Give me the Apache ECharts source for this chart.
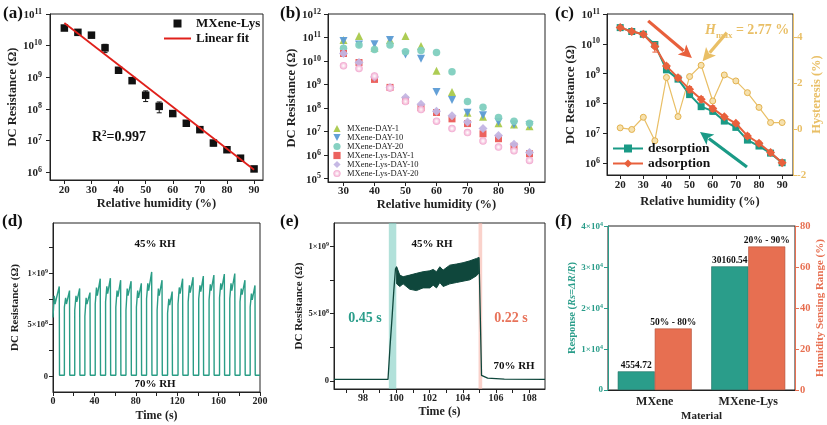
<!DOCTYPE html>
<html><head><meta charset="utf-8">
<script src="https://cdn.jsdelivr.net/npm/echarts@6/dist/echarts.min.js"></script>
<style>html,body{margin:0;padding:0;background:#fff}#c{width:827px;height:425px}</style>
</head><body><div id="c"></div>
<script>
const FONT = "'Liberation Serif','Times New Roman',serif";
// ---------- (a) MXene-Lys resistance vs RH ----------
const aRH = [20,25,30,35,40,45,50,55,60,65,70,75,80,85,90];
const aR = [3.6e10,2.63e10,2.14e10,8.5e9,1.66e9,7.8e8,2.7e8,1.2e8,7.1e7,3.5e7,2.2e7,8.3e6,5.1e6,2.75e6,1.26e6];
const aErr = [0,0,0,2.5e9,0,0,1.0e8,4.5e7,0,0,4e6,1.5e6,0,0,0];
const aFitRH = [20,90];
const aFitR = [5.2e10,1.18e6];
const aTicksX = [20,30,40,50,60,70,80,90];
const logTicksA = [6,7,8,9,10,11];
// ---------- (b) stability ----------
const bRH = [30,35,40,45,50,55,60,65,70,75,80,85,90];
const bNames = ['MXene-DAY-1','MXene-DAY-10','MXene-DAY-20','MXene-Lys-DAY-1','MXene-Lys-DAY-10','MXene-Lys-DAY-20'];
const bDay1 = [7.8e10,1.15e11,3.7e10,7.8e10,1.15e11,4.4e10,3.9e9,4.9e8,6.3e7,4.3e7,2.3e7,2.0e7,1.7e7];
const bDay10 = [7.2e10,5.1e10,5.2e10,7.8e10,1.9e10,1.26e10,4.9e8,2.2e8,6.3e7,5.0e7,2.6e7,2.0e7,1.9e7];
const bDay20 = [3.5e10,4.8e10,3.1e10,4.8e10,2.5e10,2.8e10,2.3e10,3.5e9,1.9e8,1.1e8,4.0e7,2.8e7,2.3e7];
const bLys1 = [2.1e10,8.7e9,1.66e9,7.6e8,2.2e8,1.05e8,6.5e7,3.5e7,2.2e7,8.1e6,5.0e6,2.4e6,1.15e6];
const bLys10 = [2.1e10,8.7e9,2.1e9,7.6e8,2.8e8,1.45e8,7.4e7,4.7e7,2.6e7,1.35e7,6.9e6,2.9e6,1.3e6];
const bLys20 = [6.3e9,4.8e9,2.3e9,7.2e8,1.9e8,8.7e7,2.8e7,1.35e7,9.1e6,4.0e6,2.2e6,1.55e6,6.0e5];
const bTicksX = [30,40,50,60,70,80,90];
const logTicksB = [5,6,7,8,9,10,11,12];
// ---------- (c) hysteresis ----------
const cRH = [20,25,30,35,40,45,50,55,60,65,70,75,80,85,90];
const cDes = [3.5e10,2.6e10,2.1e10,9.5e9,1.35e9,6.6e8,2.0e8,7.9e7,5.6e7,2.6e7,1.6e7,6.0e6,3.8e6,2.2e6,1.05e6];
const cDesErr = [0,3e9,0,2.3e9,0,1e8,4e7,1.5e7,1.2e7,0,2e6,0,0,0,0];
const cAds = [3.5e10,2.6e10,2.1e10,8.1e9,1.8e9,7.4e8,3.0e8,1.4e8,6.9e7,3.6e7,2.2e7,8.3e6,4.7e6,2.3e6,1.05e6];
const cAdsErr = [3e9,0,2e9,2.8e9,3e8,1.5e8,7e7,3e7,1.5e7,5e6,3e6,1.5e6,8e5,4e5,0];
const cHys = [0.05,-0.02,0.51,-0.51,2.24,0.54,2.28,2.77,1.22,2.35,2.09,1.58,0.94,0.28,0.28];
const cTicksX = [20,30,40,50,60,70,80,90];
const cTicksR = [-2,0,2,4];
// annotation arrows (RH, log10 R) and (RH, hysteresis %)
const cArrowsLeft = [[32.1,10.77,51.0,9.53],[74.8,5.88,54.5,7.05]];
const cArrowsLeftColor = ['#E8603C','#1A9A86'];
const cArrowsRight = [[66.1,4.19,55.6,2.95]];
// ---------- (d) cycling (resistance in 1e8 ohm) ----------
const dRise = [0,11.0,21.0,30.8,40.8,50.8,60.7,70.5,80.6,90.4,100.6,110.7,120.8,130.6,140.8,150.8,160.9,170.8,180.7,190.5];
const dFall = [6.3,16.2,26.0,36.0,45.9,55.7,65.6,75.7,85.6,95.6,105.6,115.4,125.5,135.6,145.5,155.7,165.8,175.9,185.7,195.4];
const dStart = [5.7,6.7,6.4,5.8,7.0,7.2,6.7,6.4,6.7,7.5,6.4,6.1,7.0,7.2,7.5,7.4,7.6,7.5,7.2,6.7];
const dKnee = [7.8,7.6,7.8,7.6,8.6,8.7,8.3,8.5,8.3,9.0,8.5,7.5,8.6,8.8,8.8,8.9,9.0,9.0,8.5,8.0];
const dDip = [7.0,7.0,7.2,7.0,7.8,8.0,7.7,7.8,7.6,8.3,7.8,6.9,8.0,8.1,8.2,8.3,8.4,8.3,7.9,7.4];
const dPeak = [8.7,8.3,8.5,8.1,9.45,9.5,9.3,9.2,9.0,10.1,9.3,8.2,9.45,9.6,9.7,9.8,9.9,9.95,9.3,8.8];
const dLow = 0.1;
const dEnd = 200;
// ---------- (e) single response (1e8 ohm) ----------
const eRiseT = [96.25,99.5,99.62,99.75,99.85,99.95,100.02];
const eRiseV = [0.1,0.1,2.5,4.8,6.7,8.3,8.47];
const eBandT = [100.02,100.21,100.41,100.81,101.21,101.61,102.02,102.22,102.42,102.62,102.82,103.22,103.62,104.02,104.43,104.83,104.97];
const eBandHi = [8.47,7.85,7.73,7.85,7.98,8.1,8.17,8.27,8.1,8.47,8.22,8.59,8.67,8.77,8.91,9.09,9.16];
const eBandLo = [7.2,7.0,7.2,6.8,6.7,6.9,6.9,7.1,6.9,7.3,7.0,7.2,7.3,7.4,7.5,7.8,8.0];
const eFallT = [104.97,105.0,105.13,105.2,105.5,106.5,108.95];
const eFallV = [9.16,8.0,0.4,0.3,0.2,0.12,0.1];
const eResp = [99.55,100.0];
const eRec = [104.95,105.17];
// ---------- (f) comparison ----------
const fCat = ['MXene','MXene-Lys'];
const fResp = [4554.72,30160.54];
const fRangeLo = [50,20];
const fRangeHi = [80,90];

const L = v => Math.log10(v);
const pairs = (xs, ys, f) => xs.map((x,i)=>[x, f ? f(ys[i]) : ys[i]]);

function rich(color, fs){
  return {
    b:{fontSize:fs,fontWeight:'bold',fontFamily:FONT,color:color,verticalAlign:'bottom'},
    s:{fontSize:Math.round(fs*0.7),fontWeight:'bold',fontFamily:FONT,color:color,verticalAlign:'bottom',padding:[0,0,Math.round(fs*0.45),0]},
    i:{fontSize:fs,fontWeight:'bold',fontStyle:'italic',fontFamily:FONT,color:color}
  };
}
function axis(o){
  const lc = o.lineColor || '#222';
  const c = o.color || '#222';
  const fs = o.fs || 11;
  const nfs = o.nfs || 12.5;
  const a = {
    type:'value', gridIndex:o.g, min:o.min, max:o.max, position:o.pos,
    axisLine:{show:true,onZero:false,lineStyle:{color:lc,width:1}},
    axisTick:{show:true,inside:false,length:4,customValues:o.ticks,lineStyle:{color:lc,width:1}},
    axisLabel:{show:true,customValues:o.labels||o.ticks,margin:o.margin||5,fontSize:fs,fontWeight:'bold',fontFamily:FONT,color:c,rich:rich(c,fs)},
    splitLine:{show:false},
    name:o.name, nameLocation:'middle', nameGap:o.gap,
    nameTextStyle:{fontSize:nfs,fontWeight:'bold',fontFamily:FONT,color:o.nameColor||c,rich:rich(o.nameColor||c,nfs)}
  };
  if (o.fmt) a.axisLabel.formatter = o.fmt;
  return a;
}
const logFmt = v => '{b|10}{s|' + Math.round(v) + '}';
const sciFmt = (v) => v === 0 ? '{b|0}' : (v === 5 ? '{b|5×10}{s|8}' : '{b|1×10}{s|9}');

function errSeries(xi, yi, xs, ys, errs, color){
  const data = [];
  xs.forEach((x,i)=>{ if (errs[i] > 0) data.push([x, L(ys[i]-errs[i]), L(ys[i]+errs[i])]); });
  return {
    type:'custom', xAxisIndex:xi, yAxisIndex:yi, silent:true, z:4,
    encode:{x:0,y:[1,2]}, data:data,
    renderItem:(params, api)=>{
      const x = api.value(0);
      const p1 = api.coord([x, api.value(1)]);
      const p2 = api.coord([x, api.value(2)]);
      const w = 2.5, st = {stroke:color,lineWidth:1};
      return {type:'group',children:[
        {type:'line',shape:{x1:p1[0],y1:p1[1],x2:p2[0],y2:p2[1]},style:st},
        {type:'line',shape:{x1:p1[0]-w,y1:p1[1],x2:p1[0]+w,y2:p1[1]},style:st},
        {type:'line',shape:{x1:p2[0]-w,y1:p2[1],x2:p2[0]+w,y2:p2[1]},style:st}
      ]};
    }
  };
}
function arrowSeries(xi, yi, arr, colors){
  return {
    type:'custom', xAxisIndex:xi, yAxisIndex:yi, silent:true, z:6, clip:false,
    encode:{x:[0,2],y:[1,3]}, data:arr,
    renderItem:(params, api)=>{
      const p1 = api.coord([api.value(0), api.value(1)]);
      const p2 = api.coord([api.value(2), api.value(3)]);
      const dx = p2[0]-p1[0], dy = p2[1]-p1[1], len = Math.hypot(dx,dy);
      const ux = dx/len, uy = dy/len, hl = 13, hw = 6.5;
      const bx = p2[0]-ux*hl, by = p2[1]-uy*hl;
      const col = colors[params.dataIndex];
      return {type:'group',children:[
        {type:'line',shape:{x1:p1[0],y1:p1[1],x2:bx+ux*2,y2:by+uy*2},style:{stroke:col,lineWidth:3.2}},
        {type:'polygon',shape:{points:[[p2[0],p2[1]],[bx-uy*hw,by+ux*hw],[bx+ux*3,by+uy*3],[bx+uy*hw,by-ux*hw]]},style:{fill:col}}
      ]};
    }
  };
}

// build (d) waveform from read pulse values
const dData = [];
for (let i=0;i<dRise.length;i++){
  if (i>0) dData.push([dRise[i], dLow]);
  dData.push([dRise[i], dStart[i]]);
  dData.push([dRise[i]+1.2, dKnee[i]]);
  dData.push([dRise[i]+2.0, dDip[i]]);
  dData.push([dFall[i]-0.25, dPeak[i]]);
  dData.push([dFall[i], dLow]);
}
dData.push([dEnd, dLow]);

const gridBase = {show:true,borderColor:'#222',borderWidth:1,backgroundColor:'transparent',containLabel:false};
const grids = [
  {left:50, top:14, width:213, height:166},
  {left:328, top:14, width:217, height:168},
  {left:607, top:14, width:186, height:161},
  {left:53, top:223, width:207, height:169},
  {left:334, top:223, width:211, height:166},
  {left:608, top:226, width:187, height:164}
].map(g=>Object.assign({}, gridBase, g));

const TEAL='#2A9D8A', SALMON='#E76F51', GOLD='#E9BF66';

const xAxes = [
  axis({g:0,min:14.7,max:93.3,ticks:aTicksX,name:'Relative humidity (%)',gap:17,margin:5}),
  axis({g:1,min:25,max:95,ticks:bTicksX,name:'Relative humidity (%)',gap:15,margin:4}),
  axis({g:2,min:14.3,max:94.7,ticks:cTicksX,name:'Relative humidity (%)',gap:20,margin:5}),
  axis({g:3,min:0,max:200,ticks:[0,20,40,60,80,100,120,140,160,180,200],labels:[0,40,80,120,160,200],name:'Time (s)',gap:18,margin:4,fs:10,nfs:12}),
  axis({g:4,min:96.25,max:108.95,ticks:[97,98,99,100,101,102,103,104,105,106,107,108],labels:[98,100,102,104,106,108],name:'Time (s)',gap:17,margin:4,fs:10,nfs:12}),
  {type:'category',gridIndex:5,data:fCat,axisLine:{lineStyle:{color:'#222'}},axisTick:{show:false},
   axisLabel:{fontSize:12,fontWeight:'bold',fontFamily:FONT,color:'#222',margin:6},
   name:'Material',nameLocation:'middle',nameGap:21,nameTextStyle:{fontSize:11,fontWeight:'bold',fontFamily:FONT,color:'#222'}}
];
const yAxes = [
  axis({g:0,min:5.75,max:11,ticks:logTicksA,fmt:logFmt,name:'DC Resistance (Ω)',gap:20,margin:8}),
  axis({g:1,min:4.86,max:12,ticks:logTicksB,fmt:logFmt,name:'DC Resistance (Ω)',gap:22,margin:7}),
  axis({g:2,min:5.61,max:11,ticks:logTicksA,fmt:logFmt,name:'DC Resistance (Ω)',gap:21,margin:7}),
  axis({g:2,min:-2,max:5,pos:'right',ticks:cTicksR,name:'Hysteresis (%)',gap:12,margin:4,lineColor:GOLD,color:GOLD,nameColor:GOLD}),
  axis({g:3,min:-1.52,max:14.84,ticks:[0,2.5,5,7.5,10,12.5],labels:[0,5,10],fmt:sciFmt,name:'DC Resistance (Ω)',gap:32,margin:5,fs:8.5,nfs:11}),
  axis({g:4,min:-0.61,max:11.72,ticks:[0,2.5,5,7.5,10],labels:[0,5,10],fmt:sciFmt,name:'DC Resistance (Ω)',gap:28,margin:5,fs:8.5,nfs:11}),
  axis({g:5,min:0,max:40000,ticks:[0,10000,20000,30000,40000],fmt:v=> v===0?'{b|0}':'{b|'+(v/10000)+'×10}{s|4}',name:'Response ({i|Rs}={i|ΔR}/{i|R})',gap:29,margin:5,fs:9,nfs:10.5,lineColor:TEAL,color:TEAL,nameColor:TEAL}),
  axis({g:5,min:0,max:80,pos:'right',ticks:[0,20,40,60,80],name:'Humidity Sensing Range (%)',gap:17,margin:5,fs:10.5,nfs:11,lineColor:SALMON,color:SALMON,nameColor:SALMON})
];

const noLine = {opacity:0,width:0};
const bSpec = [
  {data:bDay1, symbol:'triangle', size:8, color:'#A9C94B'},
  {data:bDay10, symbol:'path://M0,0L20,0L10,17Z', size:8, color:'#5B9BD5'},
  {data:bDay20, symbol:'circle', size:7.5, color:'#7FCFBF'},
  {data:bLys1, symbol:'rect', size:7, color:'#EB5A55'},
  {data:bLys10, symbol:'diamond', size:9, color:'#C3B5E3'},
  {data:bLys20, symbol:'circle', size:7.5, color:{type:'radial',x:0.5,y:0.5,r:0.5,colorStops:[{offset:0,color:'#FFFFFF'},{offset:0.35,color:'#FBE3EF'},{offset:1,color:'#F0A1CB'}]}}
];

const series = [
  // (a)
  errSeries(0,0,aRH,aR,aErr,'#111'),
  {name:'MXene-Lys',type:'line',xAxisIndex:0,yAxisIndex:0,data:pairs(aRH,aR,L),symbol:'rect',symbolSize:7.5,showSymbol:true,
   lineStyle:noLine,itemStyle:{color:'#111'},z:3},
  {name:'Linear fit',type:'line',xAxisIndex:0,yAxisIndex:0,data:pairs(aFitRH,aFitR,L),symbol:'none',
   lineStyle:{color:'#E0201B',width:1.8},itemStyle:{color:'#E0201B'},z:5},
  // (b)
  ...bSpec.map((s,k)=>({name:bNames[k],type:'line',xAxisIndex:1,yAxisIndex:1,data:pairs(bRH,s.data,L),
    symbol:s.symbol,symbolSize:s.size,showSymbol:true,lineStyle:noLine,itemStyle:{color:s.color,opacity:0.95},z:3+k})),
  // (c)
  errSeries(2,2,cRH,cDes,cDesErr,'#1A9A86'),
  errSeries(2,2,cRH,cAds,cAdsErr,'#E8603C'),
  {name:'desorption',type:'line',xAxisIndex:2,yAxisIndex:2,data:pairs(cRH,cDes,L),symbol:'rect',symbolSize:7,
   lineStyle:{color:'#1A9A86',width:2},itemStyle:{color:'#1A9A86'},z:3},
  {name:'adsorption',type:'line',xAxisIndex:2,yAxisIndex:2,data:pairs(cRH,cAds,L),symbol:'diamond',symbolSize:9,
   lineStyle:{color:'#E8603C',width:2},itemStyle:{color:'#E8603C'},z:4},
  {name:'Hysteresis',type:'line',xAxisIndex:2,yAxisIndex:3,data:pairs(cRH,cHys),symbol:'circle',symbolSize:6,
   lineStyle:{color:GOLD,width:1.2},itemStyle:{color:'#F6E1AE',borderColor:'#E3B24E',borderWidth:1},z:2},
  arrowSeries(2,2,cArrowsLeft,cArrowsLeftColor),
  arrowSeries(2,3,cArrowsRight,[GOLD]),
  // (d)
  {name:'cycle',type:'line',xAxisIndex:3,yAxisIndex:4,data:dData,symbol:'none',lineStyle:{color:'#2A9D86',width:1.4}},
  // (e)
  {name:'rise',type:'line',xAxisIndex:4,yAxisIndex:5,data:pairs(eRiseT,eRiseV),symbol:'none',lineStyle:{color:'#0F473C',width:1.3},z:3,
   markArea:{silent:true,data:[
     [{xAxis:eResp[0],itemStyle:{color:'rgba(126,205,193,0.6)'}},{xAxis:eResp[1]}],
     [{xAxis:eRec[0],itemStyle:{color:'rgba(246,180,168,0.6)'}},{xAxis:eRec[1]}]
   ]}},
  {name:'band',type:'custom',xAxisIndex:4,yAxisIndex:5,silent:true,z:3,
   encode:{x:0,y:[1,2]},data:eBandT.map((t,i)=>[t,eBandLo[i],eBandHi[i]]),
   renderItem:(params, api)=>{
     if (params.dataIndex !== 0) return null;
     const top = eBandT.map((t,i)=>api.coord([t,eBandHi[i]]));
     const bot = eBandT.map((t,i)=>api.coord([t,eBandLo[i]])).reverse();
     return {type:'polygon',shape:{points:top.concat(bot)},style:{fill:'#0F473C',stroke:'#0F473C',lineWidth:1}};
   }},
  {name:'fall',type:'line',xAxisIndex:4,yAxisIndex:5,data:pairs(eFallT,eFallV),symbol:'none',lineStyle:{color:'#0F473C',width:1.3},z:3},
  // (f)
  {name:'Response',type:'bar',xAxisIndex:5,yAxisIndex:6,data:fResp,barWidth:37,barGap:'0%',
   itemStyle:{color:TEAL,borderColor:'#1d6f62',borderWidth:0.6},
   label:{show:true,position:'top',distance:1,formatter:p=>String(fResp[p.dataIndex]),fontSize:9.5,fontWeight:'bold',fontFamily:FONT,color:'#111'}},
  {name:'Range',type:'bar',xAxisIndex:5,yAxisIndex:7,data:fRangeHi.map((h,i)=>h-fRangeLo[i]),barWidth:37,barGap:'0%',
   itemStyle:{color:SALMON,borderColor:'#b2503a',borderWidth:0.6},
   label:{show:true,position:'top',distance:1,formatter:p=>fRangeLo[p.dataIndex]+'% - '+fRangeHi[p.dataIndex]+'%',fontSize:9.5,fontWeight:'bold',fontFamily:FONT,color:'#111'}}
];

const lg = (o)=>Object.assign({orient:'vertical',selectedMode:false,padding:0,itemGap:0,inactiveColor:'#ccc'},o);
const legends = [
  lg({data:['MXene-Lys',{name:'Linear fit',itemStyle:{opacity:0}}],left:163,top:16,itemWidth:27,itemHeight:10,
      textStyle:{fontSize:13,fontWeight:'bold',fontFamily:FONT,color:'#111',lineHeight:15}}),
  lg({data:bNames,left:332,top:124,itemWidth:10,itemHeight:9,
      textStyle:{fontSize:8.5,fontFamily:FONT,color:'#222',lineHeight:9}}),
  lg({data:['desorption','adsorption'],left:612,top:141,itemWidth:30,itemHeight:10,
      textStyle:{fontSize:13.5,fontWeight:'bold',fontFamily:FONT,color:'#111',lineHeight:15}})
];

const txt = (text,x,y,fs,color,align,extra)=>({type:'text',x:x,y:y,z:100,
  style:Object.assign({text:text,fontSize:fs,fontWeight:'bold',fontFamily:FONT,fill:color||'#111',align:align||'left',verticalAlign:'middle'},extra||{})});
const graphics = [
  txt('(a)',3,14,17),txt('(b)',280,14,17),txt('(c)',555,14,17),
  txt('(d)',2,222,17),txt('(e)',280,222,17),txt('(f)',555,222,17),
  txt('{b|R}{s|2}{b|=0.997}',92,137,14,'#111','left',{rich:{b:{fontSize:14,fontWeight:'bold',fontFamily:FONT,fill:'#111',verticalAlign:'bottom'},s:{fontSize:9,fontWeight:'bold',fontFamily:FONT,fill:'#111',verticalAlign:'bottom',padding:[0,0,6,0]}}}),
  txt('{i|H}{sub|max}{n| = 2.77 %}',705,32,13,GOLD,'left',{rich:{i:{fontSize:14,fontStyle:'italic',fontWeight:'bold',fontFamily:FONT,fill:GOLD,verticalAlign:'top'},sub:{fontSize:9,fontWeight:'bold',fontFamily:FONT,fill:GOLD,verticalAlign:'top',padding:[8,0,0,0]},n:{fontSize:14,fontWeight:'bold',fontFamily:FONT,fill:GOLD,verticalAlign:'top'}}}),
  txt('45% RH',155,244,11,'#111','center'),txt('70% RH',155,384,11,'#111','center'),
  txt('45% RH',432,244,11,'#111','center'),txt('70% RH',514,366,11,'#111','center'),
  txt('0.45 s',365,318,14,'#2A9D8A','center'),txt('0.22 s',511,318,14,'#E8735A','center')
];

const chart = echarts.init(document.getElementById('c'),null,{renderer:'canvas'});
chart.setOption({animation:false,backgroundColor:'#fff',textStyle:{fontFamily:FONT},
  grid:grids,xAxis:xAxes,yAxis:yAxes,series:series,legend:legends,graphic:graphics});
</script></body></html>
